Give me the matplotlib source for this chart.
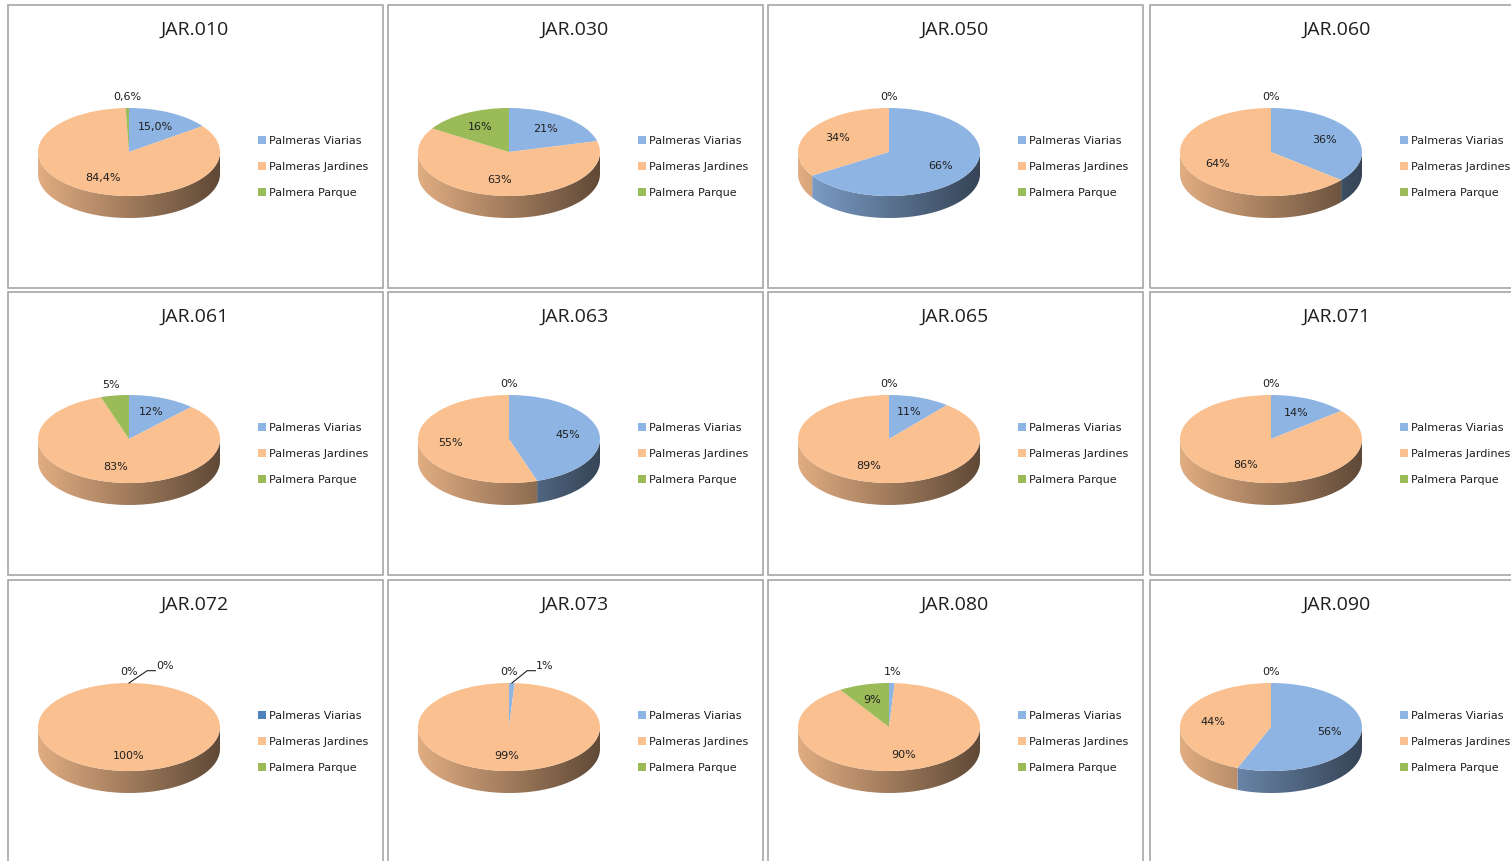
import numpy as np
import matplotlib.pyplot as plt
from matplotlib.colors import LinearSegmentedColormap, to_rgb
from matplotlib.patches import Polygon, Rectangle

# datos
titulos = ['JAR.010', 'JAR.030', 'JAR.050', 'JAR.060',
           'JAR.061', 'JAR.063', 'JAR.065', 'JAR.071',
           'JAR.072', 'JAR.073', 'JAR.080', 'JAR.090']
categorias = ['Palmeras Viarias', 'Palmeras Jardines', 'Palmera Parque']
viarias = [15.0, 21, 66, 36, 12, 45, 11, 14, 0, 1, 1, 56]
jardines = [84.4, 63, 34, 64, 83, 55, 89, 86, 100, 99, 90, 44]
parque = [0.6, 16, 0, 0, 5, 0, 0, 0, 0, 0, 9, 0]
decimales = [1, 0, 0, 0, 0, 0, 0, 0, 0, 0, 0, 0]

colores = ['#8EB4E3', '#FAC090', '#9BBB59']
texto = '#1f1f1f'

W, H = 1511, 861
col_x = [8, 388, 768, 1150]
fila_y = [5, 292, 580]
rx, ry, prof = 91, 44, 22  # radio horizontal, vertical y grosor en pixeles

fig = plt.figure(figsize=(W / 100, H / 100), dpi=100)


def lado(ax, i, lo, hi, d):
    # pared lateral (parte delantera) de un sector con degradado
    for k in (-1, 0, 1):
        a = max(lo, -180 + 360 * k)
        b = min(hi, 360 * k)
        if b <= a:
            continue
        t = np.radians(np.linspace(a, b, 80))
        xs, ys = np.cos(t), np.sin(t)
        pts = np.vstack([np.column_stack([xs, ys]),
                         np.column_stack([xs[::-1], ys[::-1] - d])])
        p = Polygon(pts, closed=True, facecolor='none', edgecolor='none')
        ax.add_patch(p)
        base = np.array(to_rgb(colores[i]))
        cmap = LinearSegmentedColormap.from_list(
            'lado', [base * 0.9, base * 0.64, base * 0.38])
        im = ax.imshow(np.linspace(0, 1, 256)[None, :], extent=(-1, 1, -1 - d, 0),
                       cmap=cmap, aspect='auto', zorder=1, interpolation='bilinear')
        im.set_clip_path(p)


for n, titulo in enumerate(titulos):
    f, c = divmod(n, 4)
    x0, y0 = col_x[c], fila_y[f]

    # marco del grafico
    fig.patches.append(Rectangle((x0 / W, 1 - (y0 + 283) / H), 375 / W, 283 / H,
                                 transform=fig.transFigure, fill=False,
                                 edgecolor='#a6a6a6', lw=1.2))
    fig.text((x0 + 187) / W, 1 - (y0 + 25) / H, titulo, ha='center', va='center',
             fontsize=14, family='Open Sans', color=texto)

    cx, cy = x0 + 121, y0 + 147
    ax = fig.add_axes([(cx - 110) / W, 1 - (cy + 75) / H, 220 / W, 150 / H])
    ax.axis('off')

    vals = [viarias[n], jardines[n], parque[n]]
    wedges, _ = ax.pie(vals, colors=colores, startangle=90, counterclock=False,
                       radius=1, wedgeprops=dict(linewidth=0))
    for w in wedges:
        w.set_zorder(3)

    d = prof / ry
    frac = np.array(vals, dtype=float) / sum(vals)
    cum = np.concatenate([[0], np.cumsum(frac)])
    for i in range(3):
        hi = 90 - 360 * cum[i]
        lo = 90 - 360 * cum[i + 1]
        if hi - lo > 0:
            lado(ax, i, lo, hi, d)

    # etiquetas de datos
    medio = np.radians(90 - 360 * (cum[:-1] + cum[1:]) / 2)
    pequeno = frac < 0.06
    pos = []
    for i in range(3):
        r = 1.25 if pequeno[i] else 0.65
        pos.append([r * np.cos(medio[i]), r * np.sin(medio[i])])
    fuera = [i for i in range(3) if pequeno[i]]
    desplazada = None
    if len(fuera) >= 2 and abs(pos[fuera[0]][0] - pos[fuera[-1]][0]) < 0.35:
        desplazada = fuera[0]
    for i in range(3):
        etiqueta = f'{vals[i]:.{decimales[n]}f}%'.replace('.', ',')
        x, y = pos[i]
        if i == desplazada:
            xl, yl = pos[fuera[-1]][0] + 0.3, 1.28
            ax.plot([np.cos(medio[i]), xl - 0.1, xl - 0.01],
                    [np.sin(medio[i]), yl, yl], color=texto, lw=0.8, zorder=5)
            ax.text(xl, yl, etiqueta, ha='left', va='bottom', fontsize=8,
                    color=texto, zorder=6)
        else:
            ax.text(x, y, etiqueta, ha='center', va='center', fontsize=8,
                    color=texto, zorder=6)

    ax.set_xlim(-110 / rx, 110 / rx)
    ax.set_ylim(-75 / ry, 75 / ry)
    ax.set_aspect('auto')

    leg = ax.legend(wedges, categorias, loc='center left',
                    bbox_to_anchor=((x0 + 250) / W, 1 - (y0 + 162) / H),
                    bbox_transform=fig.transFigure, frameon=False, fontsize=8,
                    handlelength=0.7, handleheight=0.7, handletextpad=0.3,
                    labelspacing=1.45, borderpad=0, borderaxespad=0)
    for t in leg.get_texts():
        t.set_color(texto)
    if titulo == 'JAR.072':
        leg.legend_handles[0].set_facecolor('#4F81BD')

fig.savefig('out.png', dpi=100, facecolor='white')
